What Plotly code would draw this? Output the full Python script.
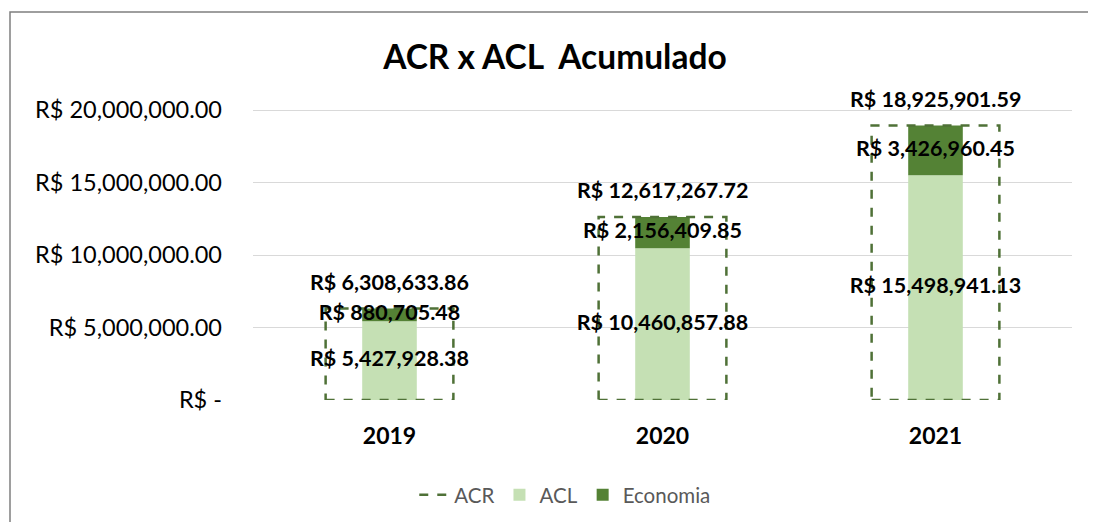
import plotly.graph_objects as go

years = ["2019", "2020", "2021"]
acl = [5427928.38, 10460857.88, 15498941.13]
economia = [880705.48, 2156409.85, 3426960.45]
acr = [6308633.86, 12617267.72, 18925901.59]
ytick_vals = [0, 5e6, 10e6, 15e6, 20e6]
ytick_text = ["R$ -", "R$ 5,000,000.00", "R$ 10,000,000.00", "R$ 15,000,000.00", "R$ 20,000,000.00"]

def brl(v):
    return "R$ " + f"{v:,.2f}"

FONT = "Lato"
x = list(range(len(years)))
fig = go.Figure()

fig.add_trace(go.Bar(x=x, y=acl, name="ACL", width=0.2, marker=dict(color="#C5E0B4", line=dict(width=0)),
                     legendrank=2))
fig.add_trace(go.Bar(x=x, y=economia, base=acl, name="Economia", width=0.2,
                     marker=dict(color="#548235", line=dict(width=0)), legendrank=3))

# ACR dashed outline boxes
half = 0.234
for i, v in enumerate(acr):
    fig.add_trace(go.Scatter(
        x=[i - half, i + half, i + half, i - half, i - half],
        y=[0, 0, v, v, 0], mode="lines",
        line=dict(color="#4F7137", width=2.5, dash="dash"),
        name="ACR", showlegend=(i == 0), legendgroup="acr", legendrank=1, hoverinfo="skip"))

label_font = dict(family=FONT, size=21.5, color="black")
fig.add_trace(go.Scatter(x=x, y=[a / 2 for a in acl], mode="text",
                         text=["<b>" + brl(a) + "</b>" for a in acl], textposition="middle center",
                         textfont=label_font, showlegend=False, hoverinfo="skip"))
fig.add_trace(go.Scatter(x=x, y=[a + e / 2 for a, e in zip(acl, economia)], mode="text",
                         text=["<b>" + brl(e) + "</b>" for e in economia], textposition="middle center",
                         textfont=label_font, showlegend=False, hoverinfo="skip"))
for i, v in enumerate(acr):
    fig.add_annotation(x=i, y=v, text="<b>" + brl(v) + "</b>", showarrow=False,
                       yanchor="bottom", yshift=12, font=label_font)

fig.update_layout(
    width=1096, height=522,
    barmode="overlay",
    paper_bgcolor="white", plot_bgcolor="white",
    margin=dict(l=245, r=32, t=92, b=130),
    title=dict(text="<b>ACR x ACL  Acumulado</b>", x=0.499, xanchor="center",
               y=1 - 49 / 522, yanchor="middle", yref="container",
               font=dict(family=FONT, size=33.5, color="black")),
    font=dict(family=FONT),
    legend=dict(orientation="h", xref="container", yref="container", x=0.508, xanchor="center",
                y=1 - 487 / 522, yanchor="middle",
                font=dict(family=FONT, size=20.5, color="#595959"), itemwidth=30),
)
fig.update_xaxes(range=[-0.5, 2.5], tickvals=x, ticktext=["<b>" + y + "</b>" for y in years],
                 tickfont=dict(family=FONT, size=23, color="black"), showgrid=False,
                 zeroline=False, showline=False, ticks="", ticklabelstandoff=20)
fig.update_yaxes(range=[0, 20.69e6], tickvals=ytick_vals, ticktext=ytick_text,
                 tickfont=dict(family=FONT, size=23.5, color="black"),
                 showgrid=True, gridcolor="#D9D9D9", gridwidth=1.3,
                 zeroline=False, showline=False, ticks="", ticklabelstandoff=30)

# outer chart border
fig.add_shape(type="rect", xref="paper", yref="paper",
              x0=(2 - 245) / 819, x1=(1110 - 245) / 819, y0=(392 - 540) / 300, y1=(392 - 4) / 300,
              line=dict(color="#7F7F7F", width=1.5), fillcolor="rgba(0,0,0,0)", layer="below")

fig.write_html("out.html")
